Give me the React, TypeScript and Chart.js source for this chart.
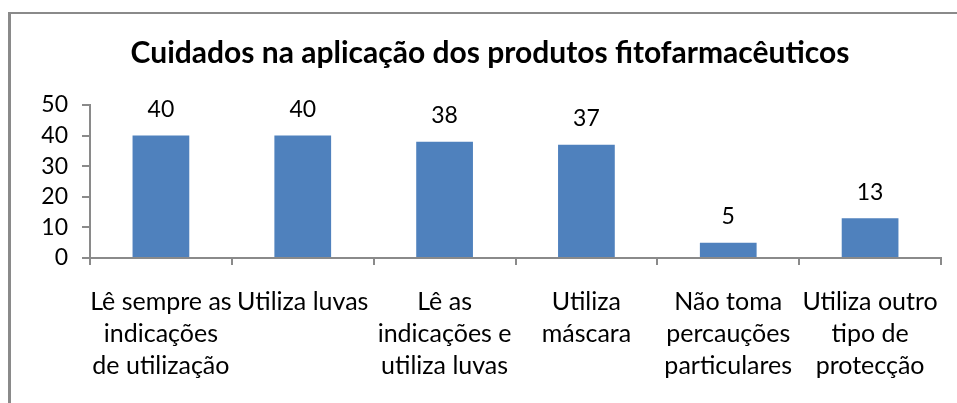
import React, { useEffect, useRef } from "react";
import { Chart, registerables } from "chart.js";

Chart.register(...registerables);

const titleText = "Cuidados na aplicação dos produtos fitofarmacêuticos";
const categories: string[][] = [
  ["Lê sempre as", "indicações", "de utilização"],
  ["Utiliza luvas"],
  ["Lê as", "indicações e", "utiliza luvas"],
  ["Utiliza", "máscara"],
  ["Não toma", "percauções", "particulares"],
  ["Utiliza outro", "tipo de", "protecção"],
];
const values: number[] = [40, 40, 38, 37, 5, 13];
const yMin = 0;
const yMax = 50;
const yStep = 10;

const FONT = "Lato, 'Liberation Sans', sans-serif";
const AXIS_COLOR = "#8a8a8a";
const BAR_COLOR = "#4F81BD";

const titlePlugin = {
  id: "customTitle",
  afterDraw(chart: any) {
    const ctx = chart.ctx;
    ctx.save();
    ctx.font = `bold 30px ${FONT}`;
    ctx.fillStyle = "#000";
    ctx.textAlign = "center";
    ctx.textBaseline = "alphabetic";
    ctx.fillText(titleText, 490, 63);
    ctx.restore();
  },
};

const valueLabelPlugin = {
  id: "valueLabels",
  afterDatasetsDraw(chart: any) {
    const ctx = chart.ctx;
    const meta = chart.getDatasetMeta(0);
    ctx.save();
    ctx.font = `23px ${FONT}`;
    ctx.fillStyle = "#000";
    ctx.textAlign = "center";
    ctx.textBaseline = "middle";
    meta.data.forEach((bar: any, i: number) => {
      ctx.fillText(String(values[i]), bar.x, bar.y - 26);
    });
    ctx.restore();
  },
};

export default function App() {
  const canvasRef = useRef<HTMLCanvasElement | null>(null);

  useEffect(() => {
    if (!canvasRef.current) return;
    const chart = new Chart(canvasRef.current, {
      type: "bar",
      data: {
        labels: categories,
        datasets: [
          {
            data: values,
            backgroundColor: BAR_COLOR,
            borderWidth: 0,
            barPercentage: 0.4,
            categoryPercentage: 1,
          },
        ],
      },
      options: {
        responsive: false,
        animation: false,
        devicePixelRatio: 1,
        layout: { padding: { top: 105, right: 16, bottom: 0, left: 0 } },
        plugins: {
          legend: { display: false },
          title: { display: false },
          tooltip: { enabled: false },
        },
        scales: {
          x: {
            afterFit: (scale: any) => {
              scale.height = 145;
              scale.paddingLeft = 0;
              scale.paddingRight = 0;
            },
            grid: {
              offset: true,
              drawOnChartArea: false,
              drawTicks: true,
              tickLength: 7,
              color: AXIS_COLOR,
              lineWidth: 2,
            },
            border: { color: AXIS_COLOR, width: 2 },
            ticks: {
              autoSkip: false,
              maxRotation: 0,
              minRotation: 0,
              padding: 21,
              color: "#000",
              font: { family: FONT, size: 25, lineHeight: "32px" as any },
            },
          },
          y: {
            min: yMin,
            max: yMax,
            afterFit: (scale: any) => {
              scale.width = 90;
            },
            grid: {
              drawOnChartArea: false,
              drawTicks: true,
              tickLength: 8,
              color: AXIS_COLOR,
              lineWidth: 2,
            },
            border: { color: AXIS_COLOR, width: 2 },
            ticks: {
              stepSize: yStep,
              padding: 14,
              color: "#000",
              font: { family: FONT, size: 23 },
            },
          },
        },
      },
      plugins: [titlePlugin, valueLabelPlugin],
    });
    return () => chart.destroy();
  }, []);

  return (
    <div
      style={{
        position: "fixed",
        left: 0,
        top: 0,
        width: 957,
        height: 403,
        overflow: "hidden",
        background: "#fff",
      }}
    >
      <div
        style={{
          position: "absolute",
          left: 8,
          top: 12,
          width: 1000,
          height: 500,
          borderLeft: "3px solid #8a8a8a",
          borderTop: "2px solid #8a8a8a",
          boxSizing: "border-box",
        }}
      />
      <canvas
        ref={canvasRef}
        width={957}
        height={403}
        style={{ position: "absolute", left: 0, top: 0, width: 957, height: 403 }}
      />
    </div>
  );
}
